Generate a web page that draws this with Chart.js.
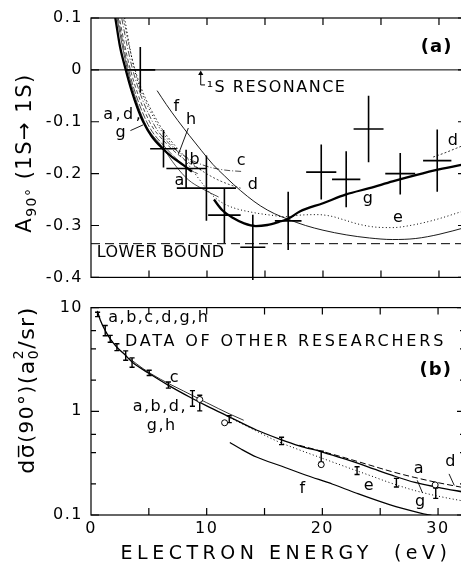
<!DOCTYPE html>
<html><head><meta charset="utf-8">
<script src="https://cdn.jsdelivr.net/npm/chart.js@4.4.1/dist/chart.umd.min.js"></script>
<style>
html,body{margin:0;padding:0;background:#fff;overflow:hidden;width:461px;height:562px;}
#c1{position:absolute;left:0;top:0;}
#c2{position:absolute;left:0;top:290px;}
</style></head><body>
<canvas id="c1" width="470" height="295"></canvas>
<canvas id="c2" width="470" height="280"></canvas>
<script>
// ================= DATA =================
// ---- Panel (a): asymmetry A90 vs energy ----
const crossE    = [4.25, 6.25, 8.2, 9.95, 11.5, 13.95, 17.0, 19.85, 22.0, 23.93, 26.66, 29.85];
const crossEErr = [1.29, 1.15, 1.7, 2.55, 1.4, 1.08, 1.15, 1.3, 1.22, 1.29, 1.29, 1.22];
const crossA    = [0.0, -0.152, -0.19, -0.228, -0.28, -0.342, -0.291, -0.197, -0.211, -0.114, -0.2, -0.175];
const crossAErr = [0.044, 0.036, 0.036, 0.063, 0.054, 0.063, 0.056, 0.053, 0.054, 0.064, 0.040, 0.060];

const aCurveG1 = [[1.95,0.12],[2.1,0.1],[2.5,0.045],[3.0,0.0],[3.5,-0.04],[4.0,-0.073],[4.5,-0.1],[5.2,-0.127],[6.1,-0.15],[7.0,-0.168],[8.0,-0.184],[8.7,-0.196]];
const aCurveG2 = [[10.6,-0.25],[11.3,-0.27],[12.3,-0.286],[13.2,-0.296],[14.2,-0.301],[15.2,-0.299],[16.2,-0.293],[17,-0.287],[18,-0.273],[20,-0.257],[22,-0.240],[24,-0.228],[26,-0.215],[28,-0.203],[30,-0.192],[32.4,-0.181]];
const aCurveF  = [[5.7,-0.04],[6.5,-0.067],[7.5,-0.098],[8.5,-0.127],[9.5,-0.155],[10.5,-0.182],[11.5,-0.204],[12.3,-0.221],[13.5,-0.244],[14.6,-0.262],[15.8,-0.277],[17,-0.288],[18.5,-0.3],[20,-0.309],[22,-0.318],[24,-0.324],[26,-0.327],[28,-0.325],[30,-0.317],[32.4,-0.303]];
const aCurveE  = [[2.75,0.12],[2.9,0.1],[3.75,0],[5.6,-0.1],[7.2,-0.15],[8.3,-0.18],[9.3,-0.21],[10.3,-0.238],[11.3,-0.256],[12.3,-0.266],[14,-0.275],[15.5,-0.28],[16.8,-0.283],[18,-0.28],[19.5,-0.279],[20.7,-0.282],[21.8,-0.289],[23,-0.297],[24.5,-0.303],[26,-0.304],[27.5,-0.3],[29.5,-0.29],[32.4,-0.27]];
const aCurveA  = [[2.1,0.12],[2.25,0.1],[3.15,0],[4.6,-0.1],[6.2,-0.15],[7.3,-0.185],[8.4,-0.212],[9.5,-0.228],[11,-0.245]];
const aCurveB  = [[2.2,0.12],[2.35,0.1],[3.25,0],[4.8,-0.1],[6.35,-0.148],[7.4,-0.172],[8.3,-0.19],[9.2,-0.2]];
const aCurveH  = [[2.3,0.12],[2.45,0.1],[3.4,0],[5.05,-0.1],[6.5,-0.142],[7.5,-0.163],[8.5,-0.18],[9.5,-0.193]];
const aCurveC  = [[2.5,0.12],[2.65,0.1],[3.6,0],[5.3,-0.1],[7.0,-0.148],[8.5,-0.172],[10,-0.186],[11.5,-0.193],[13.1,-0.196]];
const aCurveD  = [[2.65,0.12],[2.8,0.1],[3.8,0],[5.75,-0.1],[7.4,-0.15],[9,-0.185],[10.5,-0.207],[11.8,-0.22],[12.9,-0.228]];
const aCurveD2 = [[29.5,-0.168],[30.5,-0.16],[31.5,-0.151],[32.4,-0.143]];
const aLowerBound = -0.335;
const aResonanceE = 9.46;
const aTicks = [0.1, 0, -0.1, -0.2, -0.3, -0.4];

// ---- Panel (b): cross-section vs energy (log) ----
const bBarE  = [0.57, 1.23, 1.66, 2.24, 3.0, 3.55, 5.03, 6.69, 8.77, 9.4, 11.95, 16.47, 19.9, 23.0, 26.4, 29.8];
const bBarS  = [8.6, 6.0, 5.0, 4.15, 3.45, 2.95, 2.35, 1.79, 1.33, 1.2, 0.84, 0.518, 0.365, 0.268, 0.205, 0.162];
const bBarF  = [1.05, 1.12, 1.08, 1.08, 1.11, 1.11, 1.06, 1.07, 1.19, 1.19, 1.08, 1.085, 1.13, 1.09, 1.1, 1.12];
const bCircE = [9.4, 11.55, 19.9, 29.75];
const bCircS = [1.3, 0.775, 0.306, 0.195];

const bCurveMain = [[0.55,9.3],[0.8,7.6],[1.23,6.0],[1.66,5.0],[2.24,4.15],[3.0,3.45],[3.6,2.95],[5.0,2.33],[6.7,1.78],[8.6,1.36],[10,1.13],[11.9,0.89],[14.3,0.66],[16.3,0.54],[18,0.465],[20,0.405],[22,0.345],[24,0.29],[26,0.242],[28,0.206],[30,0.185],[32.4,0.165]];
const bCurveAD   = [[18,0.47],[20,0.41],[22,0.355],[24,0.305],[26,0.262],[28,0.23],[30,0.205],[32.4,0.182]];
const bCurveE    = [[12,0.87],[14,0.67],[16,0.52],[18,0.425],[20,0.352],[22,0.292],[24,0.243],[26,0.202],[28,0.172],[30,0.152],[32.4,0.135]];
const bCurveC    = [[3.3,3.25],[4.5,2.58],[6,2.04],[8,1.57],[10,1.21],[12,0.94],[13.2,0.82]];
const bCurveF    = [[12,0.5],[13,0.43],[14.3,0.362],[16.5,0.295],[18.6,0.242],[20.9,0.198],[22.9,0.163],[25.8,0.126],[28.4,0.105],[29.6,0.098]];
const bTicks = [0.1, 1, 10];
const bMinor = [0.2, 0.4, 0.6, 2, 4, 6];
const eLabels = [0, 10, 20, 30];
const eMinor  = [5, 10, 15, 20, 25, 30];
const E_MIN = 0, E_MAX = 32.33;

// ================= HELPERS =================
const FONT = 'DejaVu Sans';
const BLACK = '#000';
const P = arr => arr.map(p => ({x: p[0], y: p[1]}));
function curve(arr, w, dash, extra) {
  return Object.assign({data: P(arr), borderColor: BLACK, borderWidth: w, borderDash: dash || [],
    pointRadius: 0, fill: false, cubicInterpolationMode: 'monotone', spanGaps: false}, extra || {});
}
function crossData(X, XE, Y, YE) {
  const d = [];
  for (let i = 0; i < X.length; i++) {
    d.push({x: X[i]-XE[i], y: Y[i]}, {x: X[i]+XE[i], y: Y[i]}, {x: X[i], y: null},
           {x: X[i], y: Y[i]+YE[i]}, {x: X[i], y: Y[i]-YE[i]}, {x: X[i], y: null});
  }
  return d;
}
function ibarData(X, Y, F, cap) {
  const d = [];
  for (let i = 0; i < X.length; i++) {
    const lo = Y[i]/F[i], hi = Y[i]*F[i];
    d.push({x: X[i], y: lo}, {x: X[i], y: hi}, {x: X[i], y: null},
           {x: X[i]-cap, y: hi}, {x: X[i]+cap, y: hi}, {x: X[i], y: null},
           {x: X[i]-cap, y: lo}, {x: X[i]+cap, y: lo}, {x: X[i], y: null});
  }
  return d;
}
const spacing = {
  id: 'spacing',
  beforeLayout(c) { c.ctx.letterSpacing = '1.5px'; },
  beforeDraw(c) { c.ctx.letterSpacing = '1.5px'; }
};
function framePlugin(xT, yT, yMinor) {
  return {
    id: 'frame',
    afterDraw(c) {
      const {ctx, chartArea: a, scales: {x, y}} = c;
      ctx.save();
      ctx.strokeStyle = BLACK; ctx.lineWidth = 1.2;
      ctx.strokeRect(a.left, a.top, a.right - a.left, a.bottom - a.top);
      ctx.beginPath();
      xT.forEach(v => { const px = x.getPixelForValue(v);
        ctx.moveTo(px, a.top); ctx.lineTo(px, a.top + 7);
        ctx.moveTo(px, a.bottom); ctx.lineTo(px, a.bottom - 7); });
      yT.forEach(v => { const py = y.getPixelForValue(v);
        ctx.moveTo(a.left, py); ctx.lineTo(a.left + 8, py);
        ctx.moveTo(a.right, py); ctx.lineTo(a.right - 8, py); });
      (yMinor || []).forEach(v => { const py = y.getPixelForValue(v);
        ctx.moveTo(a.left, py); ctx.lineTo(a.left + 5, py);
        ctx.moveTo(a.right, py); ctx.lineTo(a.right - 5, py); });
      ctx.stroke();
      ctx.restore();
    }
  };
}
function txt(c, s, xv, yv, o) {
  o = o || {};
  const ctx = c.ctx;
  ctx.font = (o.bold ? 'bold ' : '') + (o.size || 16) + 'px "' + FONT + '"';
  ctx.letterSpacing = (o.ls == null ? 1 : o.ls) + 'px';
  ctx.textAlign = o.align || 'center';
  ctx.textBaseline = 'middle';
  ctx.fillStyle = BLACK;
  ctx.fillText(s, c.scales.x.getPixelForValue(xv), c.scales.y.getPixelForValue(yv));
}
function seg(c, x1, y1, x2, y2) {
  const {ctx, scales: {x, y}} = c;
  ctx.beginPath(); ctx.strokeStyle = BLACK; ctx.lineWidth = 0.9;
  ctx.moveTo(x.getPixelForValue(x1), y.getPixelForValue(y1));
  ctx.lineTo(x.getPixelForValue(x2), y.getPixelForValue(y2));
  ctx.stroke();
}
function rotatedTitle(ctx, cx, cy, parts) {
  ctx.save();
  ctx.translate(cx, cy); ctx.rotate(-Math.PI / 2);
  ctx.letterSpacing = '1.5px';
  ctx.fillStyle = BLACK; ctx.textBaseline = 'middle'; ctx.textAlign = 'left';
  let total = 0;
  const w = parts.map(p => { ctx.font = p.s + 'px "' + FONT + '"'; const m = ctx.measureText(p.t).width; if (!p.noAdv) total += m; return m; });
  let pos = -total / 2;
  parts.forEach((p, i) => {
    ctx.font = p.s + 'px "' + FONT + '"';
    ctx.fillText(p.t, pos, p.dy || 0);
    if (!p.noAdv) pos += w[i];
  });
  ctx.restore();
}

// ================= PANEL (a) =================
const labelsA = {
  id: 'labelsA',
  afterDatasetsDraw(c) {
    const ctx = c.ctx; ctx.save();
    txt(c, '(a)', 29.8, 0.043, {bold: true, size: 18, ls: 1});
    txt(c, '\u00B9S RESONANCE', 9.97, -0.035, {align: 'left', size: 16, ls: 1.5});
    txt(c, 'LOWER BOUND', 0.49, -0.352, {align: 'left', size: 16, ls: 0.5});
    txt(c, 'a,d,', 2.78, -0.087, {size: 16, ls: 2.5});
    txt(c, 'g', 2.6, -0.122, {size: 16});
    seg(c, 3.4, -0.117, 4.5, -0.106);
    txt(c, 'f', 7.39, -0.071);
    txt(c, 'h', 8.68, -0.096);
    seg(c, 8.39, -0.112, 7.53, -0.163);
    txt(c, 'b', 8.97, -0.173);
    txt(c, 'c', 12.99, -0.175);
    txt(c, 'a', 7.67, -0.213);
    txt(c, 'd', 14.0, -0.221);
    txt(c, 'g', 23.9, -0.248);
    txt(c, 'e', 26.5, -0.286);
    txt(c, 'd', 31.23, -0.137);
    ctx.restore();
    rotatedTitle(ctx, 26, 153, [{t: 'A', s: 21}, {t: '90°', s: 14, dy: 6}, {t: ' (1S\u2192 1S)', s: 21}]);
  }
};

new Chart(document.getElementById('c1'), {
  type: 'line',
  data: {datasets: [
    {data: crossData(crossE, crossEErr, crossA, crossAErr), borderColor: BLACK, borderWidth: 1.6, pointRadius: 0, tension: 0, spanGaps: false, clip: false},
    curve(aCurveG1, 2.3),
    curve(aCurveG2, 2.3),
    curve(aCurveF, 0.9),
    curve(aCurveE, 1, [1, 2.5]),
    curve(aCurveA, 0.7),
    curve(aCurveB, 0.7, [7, 2]),
    curve(aCurveH, 0.7, [4, 2.5]),
    curve(aCurveC, 0.7, [6, 2, 1, 2]),
    curve(aCurveD, 0.7, [2, 2]),
    curve(aCurveD2, 0.8, [2, 2]),
    curve([[E_MIN, 0], [E_MAX, 0]], 1),
    curve([[E_MIN, aLowerBound], [E_MAX, aLowerBound]], 1, [9, 5]),
    curve([[aResonanceE + 0.37, -0.029], [aResonanceE, -0.029], [aResonanceE, -0.007]], 1,
      [], {tension: 0, cubicInterpolationMode: 'default', pointRadius: [0, 0, 3], pointStyle: 'triangle', pointBackgroundColor: BLACK, pointBorderColor: BLACK, pointBorderWidth: 0})
  ]},
  options: {
    responsive: false, animation: false, devicePixelRatio: 1,
    layout: {padding: {top: 18, right: 4, bottom: 13, left: 0}},
    plugins: {legend: {display: false}, tooltip: {enabled: false}},
    scales: {
      x: {type: 'linear', display: false, min: E_MIN, max: E_MAX},
      y: {type: 'linear', min: -0.4, max: 0.1,
        afterFit: s => { s.width = 91; },
        afterBuildTicks: s => { s.ticks = aTicks.map(v => ({value: v})); },
        grid: {display: false, drawTicks: false}, border: {display: false},
        ticks: {color: BLACK, padding: 8, font: {family: FONT, size: 16},
          callback: v => Math.abs(v) < 1e-9 ? '0' : Number(v).toFixed(1)}}
    }
  },
  plugins: [spacing, framePlugin(eMinor, aTicks, []), labelsA]
});

// ================= PANEL (b) =================
const labelsB = {
  id: 'labelsB',
  afterDatasetsDraw(c) {
    const ctx = c.ctx; ctx.save();
    txt(c, 'a,b,c,d,g,h', 1.49, 8.03, {align: 'left', size: 16, ls: 1.5});
    txt(c, 'DATA OF OTHER RESEARCHERS', 2.93, 4.71, {align: 'left', size: 16, ls: 2.8});
    txt(c, '(b)', 29.8, 2.49, {bold: true, size: 18, ls: 1});
    txt(c, 'c', 7.24, 2.08);
    txt(c, 'a,b,d,', 5.95, 1.116, {ls: 1.5});
    txt(c, 'g,h', 6.12, 0.72, {ls: 1.5});
    txt(c, 'f', 18.3, 0.18);
    txt(c, 'e', 24.05, 0.193);
    txt(c, 'a', 28.36, 0.279);
    txt(c, 'g', 28.5, 0.134);
    seg(c, 28.2, 0.216, 28.65, 0.164);
    txt(c, 'd', 31.1, 0.322);
    seg(c, 30.95, 0.249, 31.4, 0.193);
    ctx.restore();
    const a = c.chartArea;
    ctx.save();
    ctx.font = '19px "' + FONT + '"'; ctx.letterSpacing = '4.5px';
    ctx.textAlign = 'center'; ctx.textBaseline = 'middle'; ctx.fillStyle = BLACK;
    ctx.fillText('ELECTRON ENERGY  (eV)', a.left + 195, 264);
    ctx.restore();
    rotatedTitle(ctx, 28, 100, [{t: 'd\u03C3\u0305', s: 22}, {t: '(90°)', s: 20}, {t: '(a', s: 22},
      {t: '2', s: 14, dy: -9, noAdv: true}, {t: '0', s: 14, dy: 6}, {t: '/sr)', s: 22}]);
  }
};

new Chart(document.getElementById('c2'), {
  type: 'line',
  data: {datasets: [
    {data: P(bCircE.map((e, i) => [e, bCircS[i]])), showLine: false, pointRadius: 3, pointStyle: 'circle',
      pointBackgroundColor: '#fff', pointBorderColor: BLACK, pointBorderWidth: 1},
    {data: ibarData(bBarE, bBarS, bBarF, 0.22), borderColor: BLACK, borderWidth: 1.4, pointRadius: 0, tension: 0, spanGaps: false, clip: false},
    curve(bCurveMain, 1.3),
    curve(bCurveAD, 1, [6, 3]),
    curve(bCurveE, 1, [1, 2.5]),
    curve(bCurveC, 0.8),
    curve(bCurveF, 1.2)
  ]},
  options: {
    responsive: false, animation: false, devicePixelRatio: 1,
    layout: {padding: {top: 15, right: 4, bottom: 0, left: 0}},
    plugins: {legend: {display: false}, tooltip: {enabled: false}},
    scales: {
      x: {type: 'linear', min: E_MIN, max: E_MAX,
        afterFit: s => { s.height = 55; },
        afterBuildTicks: s => { s.ticks = eLabels.map(v => ({value: v})); },
        grid: {display: false, drawTicks: false}, border: {display: false},
        ticks: {color: BLACK, padding: 4, maxRotation: 0, autoSkip: false, font: {family: FONT, size: 16},
          callback: v => String(v)}},
      y: {type: 'logarithmic', min: 0.1, max: 10,
        afterFit: s => { s.width = 91; },
        afterBuildTicks: s => { s.ticks = bTicks.map(v => ({value: v})); },
        grid: {display: false, drawTicks: false}, border: {display: false},
        ticks: {color: BLACK, padding: 8, autoSkip: false, font: {family: FONT, size: 16},
          callback: v => v >= 10 ? '10' : (v >= 1 ? '1' : '0.1')}}
    }
  },
  plugins: [spacing, framePlugin(eMinor, bTicks, bMinor), labelsB]
});
</script>
</body></html>
